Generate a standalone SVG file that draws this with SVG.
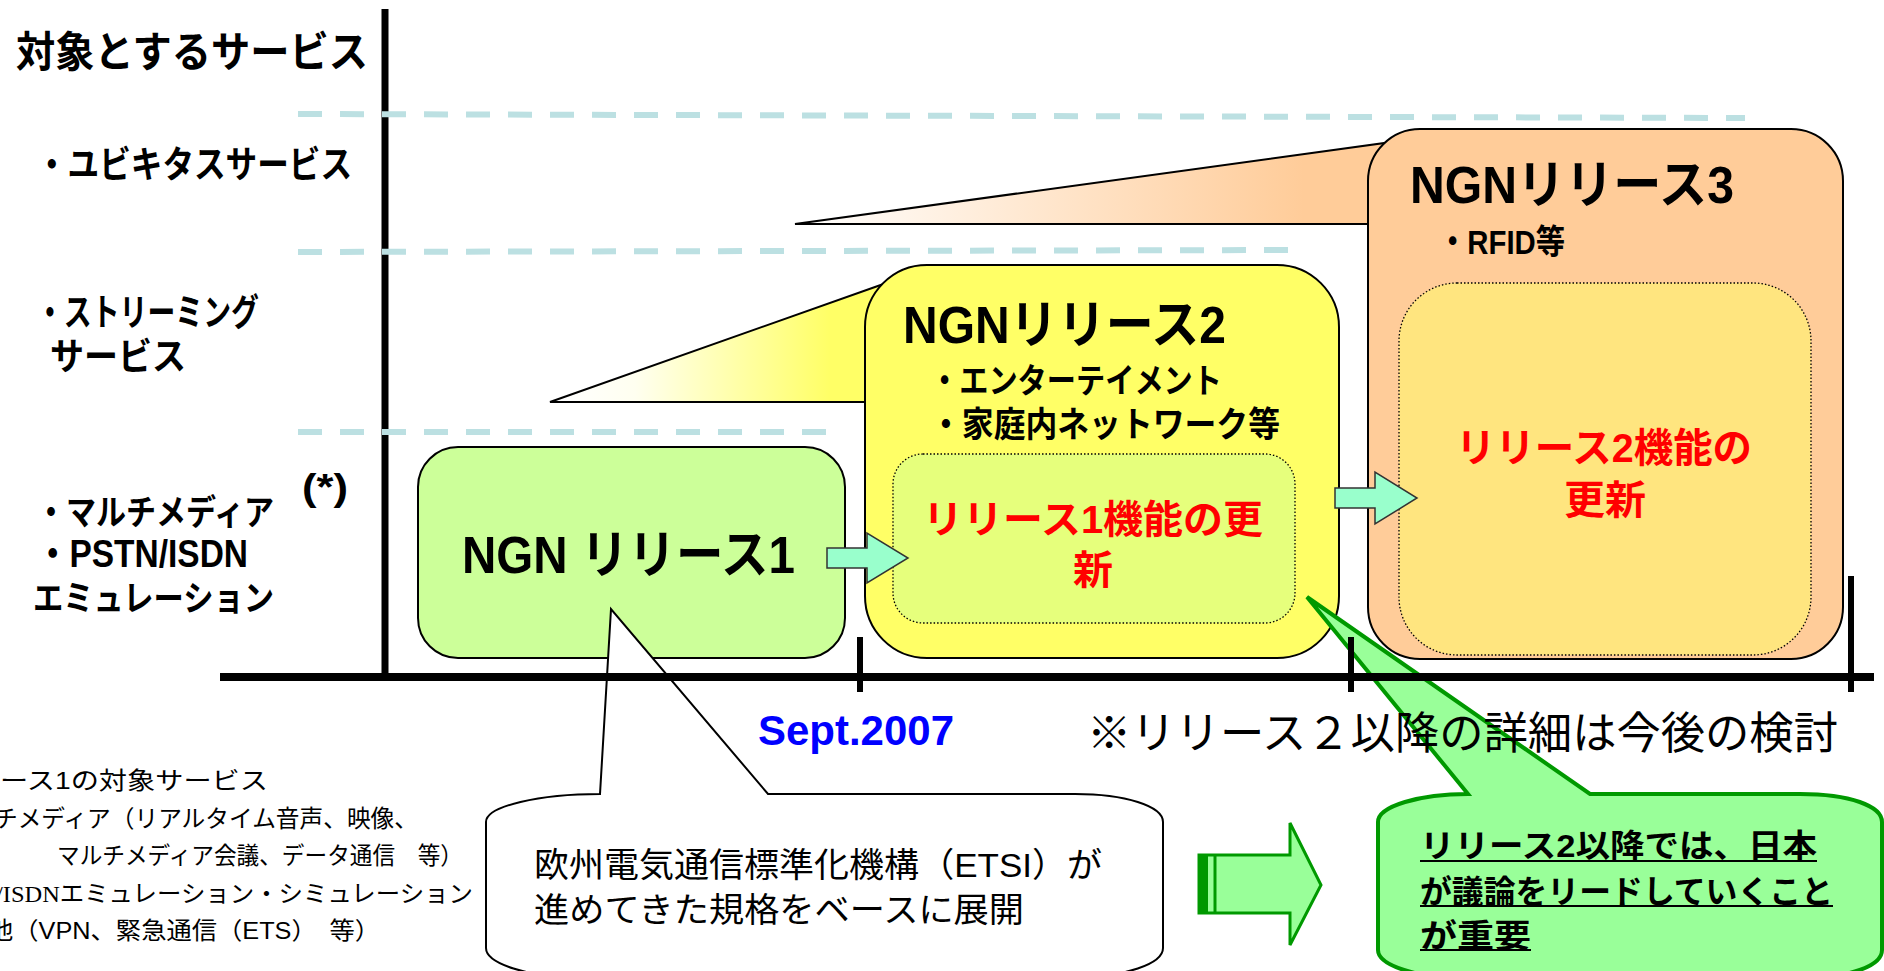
<svg xmlns="http://www.w3.org/2000/svg" width="1884" height="971" viewBox="0 0 1884 971">
<defs>
<linearGradient id="gY" gradientUnits="userSpaceOnUse" x1="560" y1="0" x2="860" y2="0">
<stop offset="0" stop-color="#FFFFFF"/><stop offset="0.25" stop-color="#FFFFF0"/><stop offset="0.9" stop-color="#FFFF66"/></linearGradient>
<linearGradient id="gO" gradientUnits="userSpaceOnUse" x1="800" y1="0" x2="1360" y2="0">
<stop offset="0" stop-color="#FFFFFF"/><stop offset="0.9" stop-color="#FFCC99"/></linearGradient>
<style>
.dash{stroke:#BCE0E2;stroke-width:6;stroke-dasharray:24 18;fill:none}
.ax{stroke:#000;fill:none}
.box{stroke:#000;stroke-width:2}
.inner{stroke:#000;stroke-width:1.3;stroke-dasharray:1.5 2}
.arr{fill:#99FFCC;stroke:#333;stroke-width:1.5}
.b{font-family:"Liberation Sans","Noto Sans CJK JP",sans-serif;font-weight:bold;fill:#000}
.r{font-family:"Liberation Sans","Noto Sans CJK JP",sans-serif;font-weight:normal;fill:#000}
.red{fill:#FF0000}
.ul{stroke:#000;stroke-width:2.2}
</style>
</defs>
<rect width="1884" height="971" fill="#FFFFFF"/>

<g id="vertical-axis"><line class="ax" x1="385" y1="9" x2="385" y2="677" stroke-width="7"/></g>

<g id="grid">
<line class="dash" x1="298" y1="114" x2="1745" y2="118"/>
<line class="dash" x1="298" y1="252" x2="1290" y2="250"/>
<line class="dash" x1="298" y1="432" x2="828" y2="432"/>
</g>

<g id="labels">
<text class="b" x="16" y="67" font-size="42" textLength="352" lengthAdjust="spacingAndGlyphs">対象とするサービス</text>
<text class="b" x="36" y="178" font-size="37" textLength="316" lengthAdjust="spacingAndGlyphs">・ユビキタスサービス</text>
<text class="b" x="36" y="326" font-size="37" textLength="223" lengthAdjust="spacingAndGlyphs">・ストリーミング</text>
<text class="b" x="50" y="370" font-size="37" textLength="136" lengthAdjust="spacingAndGlyphs">サービス</text>
<text class="b" x="36" y="525" font-size="35" textLength="238" lengthAdjust="spacingAndGlyphs">・マルチメディア</text>
<text class="b" x="302" y="500" font-size="36" textLength="46" lengthAdjust="spacingAndGlyphs">(*)</text>
<text class="b" x="36" y="567" font-size="38" textLength="212" lengthAdjust="spacingAndGlyphs">・PSTN/ISDN</text>
<text class="b" x="33" y="611" font-size="35" textLength="241" lengthAdjust="spacingAndGlyphs">エミュレーション</text>
</g>

<g id="wedges">
<polygon points="550,402 892,281 892,402" fill="url(#gY)" stroke="#000" stroke-width="2"/>
<polygon points="795,224 1392,142 1392,224" fill="url(#gO)" stroke="#000" stroke-width="2"/>
</g>

<g id="release1">
<rect class="box" x="418" y="447" width="427" height="211" rx="40" fill="#CCFF99"/>
<text class="b" x="462" y="573" font-size="52" textLength="333" lengthAdjust="spacingAndGlyphs">NGN リリース1</text>
</g>

<g id="release2">
<rect class="box" x="865" y="265" width="474" height="393" rx="62" fill="#FFFF66"/>
<text class="b" x="903" y="343" font-size="52" textLength="323" lengthAdjust="spacingAndGlyphs">NGNリリース2</text>
<text class="b" x="930" y="393" font-size="34" textLength="292" lengthAdjust="spacingAndGlyphs">・エンターテイメント</text>
<text class="b" x="930" y="437" font-size="35" textLength="350" lengthAdjust="spacingAndGlyphs">・家庭内ネットワーク等</text>
<rect class="inner" x="893" y="454" width="402" height="169" rx="30" fill="#E6FF7C"/>
<text class="b red" x="923" y="533" font-size="39" textLength="340" lengthAdjust="spacingAndGlyphs">リリース1機能の更</text>
<text class="b red" x="1093" y="584" font-size="40" text-anchor="middle">新</text>
</g>

<g id="release3">
<rect class="box" x="1368" y="129" width="475" height="530" rx="52" fill="#FFCC99"/>
<text class="b" x="1410" y="203" font-size="52" textLength="324" lengthAdjust="spacingAndGlyphs">NGNリリース3</text>
<text class="b" x="1438" y="254" font-size="34" textLength="127" lengthAdjust="spacingAndGlyphs">・RFID等</text>
<rect class="inner" x="1399" y="283" width="412" height="372" rx="58" fill="#FFE57F"/>
<text class="b red" x="1456" y="462" font-size="40" textLength="296" lengthAdjust="spacingAndGlyphs">リリース2機能の</text>
<text class="b red" x="1564" y="514" font-size="40" textLength="82" lengthAdjust="spacingAndGlyphs">更新</text>
</g>

<g id="connectors">
<polygon class="arr" points="827,548 867,548 867,533 908,558 867,583 867,568 827,568"/>
<polygon class="arr" points="1335,488 1375,488 1375,472 1417,498 1375,524 1375,508 1335,508"/>
</g>

<g id="etsi-callout">
<path d="M486,822 C486,806 540,794 600,794 L611,609 L768,794 L1075,794 C1125,794 1163,806 1163,822 L1163,948 C1163,964 1125,977 1075,977 L574,977 C530,977 486,964 486,948 Z" fill="#FFFFFF" stroke="#000" stroke-width="2"/>
<text class="r" x="534" y="877" font-size="34" textLength="568" lengthAdjust="spacingAndGlyphs">欧州電気通信標準化機構（ETSI）が</text>
<text class="r" x="534" y="922" font-size="34" textLength="490" lengthAdjust="spacingAndGlyphs">進めてきた規格をベースに展開</text>
</g>

<g id="key-callout">
<path d="M1378,822 C1378,806 1420,794 1468,794 L1307,597 L1590,794 L1800,794 C1850,794 1882,806 1882,822 L1882,950 C1882,966 1850,978 1800,978 L1460,978 C1420,978 1378,966 1378,950 Z" fill="#99FF99" stroke="#009900" stroke-width="4"/>
<text class="b" x="1420" y="857" font-size="32" textLength="397" lengthAdjust="spacingAndGlyphs">リリース2以降では、日本</text>
<text class="b" x="1420" y="903" font-size="32" textLength="413" lengthAdjust="spacingAndGlyphs">が議論をリードしていくこと</text>
<text class="b" x="1420" y="947" font-size="32" textLength="111" lengthAdjust="spacingAndGlyphs">が重要</text>
<line class="ul" x1="1420" y1="861" x2="1817" y2="861"/>
<line class="ul" x1="1420" y1="906" x2="1833" y2="906"/>
<line class="ul" x1="1420" y1="950" x2="1531" y2="950"/>
</g>

<g id="time-axis">
<line class="ax" x1="220" y1="677" x2="1874" y2="677" stroke-width="8"/>
<line class="ax" x1="860" y1="637" x2="860" y2="692" stroke-width="6"/>
<line class="ax" x1="1351" y1="637" x2="1351" y2="692" stroke-width="6"/>
<line class="ax" x1="1851" y1="576" x2="1851" y2="692" stroke-width="6"/>
</g>

<g id="big-arrow">
<polygon points="1199,855 1290,855 1290,823 1321,885 1290,945 1290,913 1199,913" fill="#99FF99" stroke="#009900" stroke-width="3"/>
<rect x="1199" y="855" width="9" height="58" fill="#009900"/>
<line x1="1215" y1="856" x2="1215" y2="912" stroke="#009900" stroke-width="3"/>
</g>

<g id="notes">
<text class="b" x="758" y="745" font-size="42" fill="#0000FF" style="fill:#0000FF" textLength="196" lengthAdjust="spacingAndGlyphs">Sept.2007</text>
<text class="r" x="1087" y="749" font-size="44" textLength="751" lengthAdjust="spacingAndGlyphs">※リリース２以降の詳細は今後の検討</text>
<text class="r" x="0" y="789" font-size="24" textLength="268" lengthAdjust="spacingAndGlyphs">ース1の対象サービス</text>
<text class="r" x="-6" y="827" font-size="24" textLength="424" lengthAdjust="spacingAndGlyphs">チメディア（リアルタイム音声、映像、</text>
<text class="r" x="57" y="864" font-size="24" textLength="406" lengthAdjust="spacingAndGlyphs">マルチメディア会議、データ通信　等）</text>
<text class="r" x="-4" y="902" font-size="24" textLength="477" lengthAdjust="spacingAndGlyphs"><tspan font-family="Liberation Serif">/ISDN</tspan>エミュレーション・シミュレーション</text>
<text class="r" x="-12" y="939" font-size="24" textLength="392" lengthAdjust="spacingAndGlyphs">他（VPN、緊急通信（ETS）　等）</text>
</g>
</svg>
